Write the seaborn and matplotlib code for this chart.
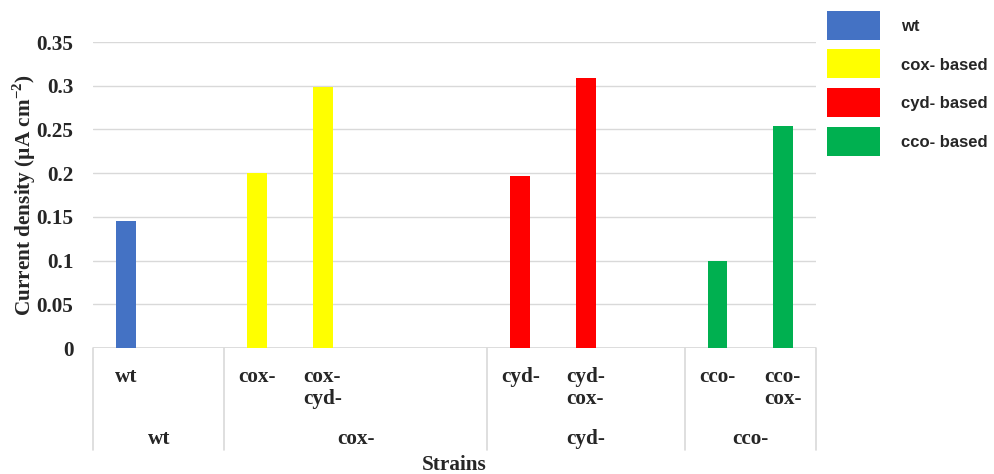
import numpy as np
import pandas as pd
import matplotlib
matplotlib.use("Agg")
import matplotlib.pyplot as plt
from matplotlib.patches import Patch, Rectangle
from matplotlib.legend_handler import HandlerPatch
from matplotlib.transforms import blended_transform_factory
import seaborn as sns

# Category slots along the x axis (Excel-style two-level axis, blanks included)
families = ["wt", "wt", "cox-", "cox-", "cox-", "cox-", "cyd-", "cyd-", "cyd-", "cco-", "cco-"]
strain_labels = ["wt", "", "cox-", "cox-\ncyd-", "", "", "cyd-", "cyd-\ncox-", "", "cco-", "cco-\ncox-"]
current_density = [0.145, np.nan, 0.200, 0.298, np.nan, np.nan, 0.197, 0.309, np.nan, 0.099, 0.254]

family_order = ["wt", "cox-", "cyd-", "cco-"]
legend_labels = ["wt", "cox- based", "cyd- based", "cco- based"]
family_colors = ["#4472C4", "#FFFF00", "#FF0000", "#00B050"]

yticks = [0, 0.05, 0.1, 0.15, 0.2, 0.25, 0.3, 0.35]
ytick_labels = ["0", "0.05", "0.1", "0.15", "0.2", "0.25", "0.3", "0.35"]

df = pd.DataFrame({
    "slot": list(range(len(families))),
    "family": families,
    "density": current_density,
})

sns.set_theme(style="white")
plt.rcParams["font.family"] = ["Liberation Serif", "DejaVu Serif"]
plt.rcParams["font.weight"] = "bold"
plt.rcParams["mathtext.fontset"] = "custom"
plt.rcParams["mathtext.rm"] = "Liberation Serif:bold"

serif = ["Liberation Serif", "DejaVu Serif"]
sans = ["Liberation Sans", "DejaVu Sans"]
FS = 15.3
GRID = "#D9D9D9"

fig = plt.figure(figsize=(9.95, 4.74), dpi=100)
ax = fig.add_axes([93 / 995, 1 - 348 / 474, 723 / 995, 306 / 474])

palette = dict(zip(family_order, family_colors))
sns.barplot(data=df, x="slot", y="density", hue="family", order=df["slot"].tolist(),
            hue_order=family_order, palette=palette, dodge=False, width=0.30,
            linewidth=0, saturation=1, legend=False, ax=ax)

n = len(families)
ax.set_xlim(-0.5, n - 0.5)
ax.set_ylim(0, 0.35)
ax.set_yticks(yticks)
ax.set_yticklabels(ytick_labels, fontsize=FS, fontweight="bold", family=serif)
ax.tick_params(axis="y", length=0, pad=14)
ax.set_xticks([])
ax.set_xlabel("")
ax.yaxis.grid(True, color=GRID, linewidth=1)
ax.set_axisbelow(True)
for s in ax.spines.values():
    s.set_visible(False)
ax.axhline(0, color=GRID, linewidth=1.2, zorder=0.5)

ax.set_ylabel("Current density (µA cm$^{\\mathregular{-2}}$)", fontsize=FS,
              fontweight="bold", family=serif)
ax.yaxis.set_label_coords(-0.076, 0.5)

# Two-level category axis below the plot
trans = blended_transform_factory(ax.transData, ax.transAxes)
px = 1 / 306.0
for i, lab in enumerate(strain_labels):
    if lab:
        ax.text(i, -(367 - 348) * px, lab, transform=trans, ha="center", va="top",
                fontsize=FS, fontweight="bold", family=serif, linespacing=1.12,
                multialignment="left")

bounds = [-0.5]
centers = []
start = 0
for k in range(1, n + 1):
    if k == n or families[k] != families[k - 1]:
        bounds.append(k - 0.5)
        centers.append(((start - 0.5) + (k - 0.5)) / 2)
        start = k
for b in bounds:
    ax.plot([b, b], [0, -(450 - 348) * px], transform=trans, color=GRID,
            linewidth=1.2, clip_on=False)
for c, fam in zip(centers, family_order):
    ax.text(c, -(439 - 348) * px, fam, transform=trans, ha="center", va="center",
            fontsize=FS, fontweight="bold", family=serif)

ax.text(0.5, -(465 - 348) * px, "Strains", transform=ax.transAxes, ha="center",
        va="center", fontsize=FS, fontweight="bold", family=serif)


# Legend with large colour swatches
SW_H = 29 * 0.72  # swatch height in points


def big_swatch(legend, orig_handle, xdescent, ydescent, width, height, fontsize):
    y0 = -ydescent + height / 2 - SW_H / 2
    return Rectangle((-xdescent, y0), width, SW_H)


handles = [Patch(facecolor=c, edgecolor="none") for c in family_colors]
leg = fig.legend(handles, legend_labels, loc="upper left",
                 bbox_to_anchor=(827 / 995, 1 - 19 / 474), bbox_transform=fig.transFigure,
                 frameon=False, borderpad=0, borderaxespad=0,
                 handlelength=3.2, handletextpad=1.25, labelspacing=1.42,
                 handler_map={Patch: HandlerPatch(patch_func=big_swatch)},
                 prop={"family": sans, "weight": "bold", "size": 12})

fig.savefig("out.png", dpi=100, facecolor="white")
